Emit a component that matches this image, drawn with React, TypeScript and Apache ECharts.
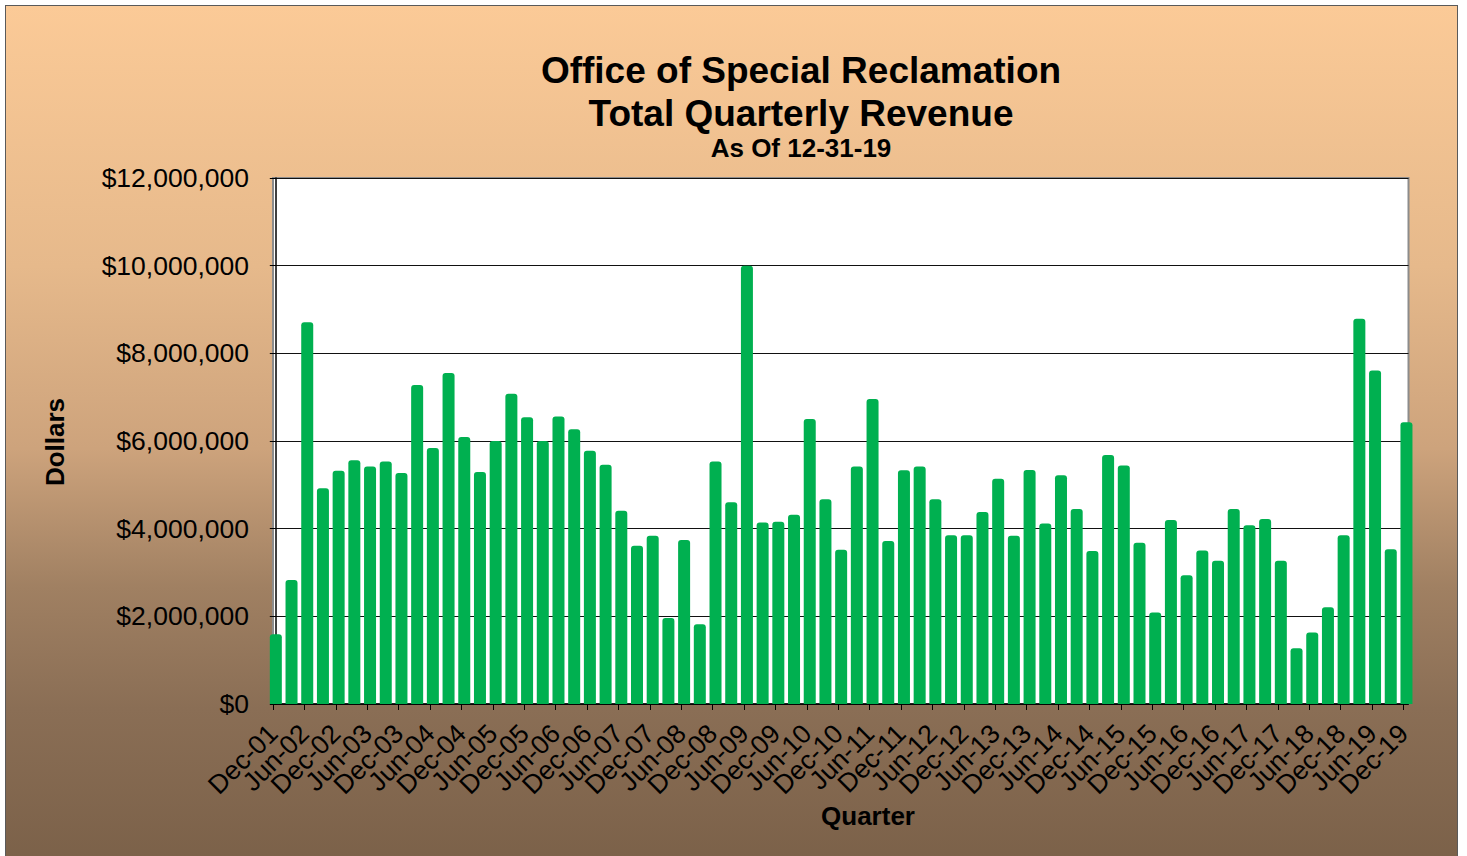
import React, { useEffect, useRef } from "react";
import * as echarts from "echarts";

const FONT = 'Arial, "Liberation Sans", sans-serif';

// 73 quarters, Dec-01 .. Dec-19
const quarters = [
  "Dec-01",
  "Mar-02", "Jun-02", "Sep-02", "Dec-02",
  "Mar-03", "Jun-03", "Sep-03", "Dec-03",
  "Mar-04", "Jun-04", "Sep-04", "Dec-04",
  "Mar-05", "Jun-05", "Sep-05", "Dec-05",
  "Mar-06", "Jun-06", "Sep-06", "Dec-06",
  "Mar-07", "Jun-07", "Sep-07", "Dec-07",
  "Mar-08", "Jun-08", "Sep-08", "Dec-08",
  "Mar-09", "Jun-09", "Sep-09", "Dec-09",
  "Mar-10", "Jun-10", "Sep-10", "Dec-10",
  "Mar-11", "Jun-11", "Sep-11", "Dec-11",
  "Mar-12", "Jun-12", "Sep-12", "Dec-12",
  "Mar-13", "Jun-13", "Sep-13", "Dec-13",
  "Mar-14", "Jun-14", "Sep-14", "Dec-14",
  "Mar-15", "Jun-15", "Sep-15", "Dec-15",
  "Mar-16", "Jun-16", "Sep-16", "Dec-16",
  "Mar-17", "Jun-17", "Sep-17", "Dec-17",
  "Mar-18", "Jun-18", "Sep-18", "Dec-18",
  "Mar-19", "Jun-19", "Sep-19", "Dec-19",
];

// Total quarterly revenue in dollars
const revenue = [
  1590000,
  2830000, 8710000, 4920000, 5320000,
  5560000, 5420000, 5530000, 5270000,
  7280000, 5840000, 7550000, 6090000,
  5290000, 6000000, 7080000, 6540000,
  6000000, 6560000, 6270000, 5780000,
  5460000, 4410000, 3610000, 3840000,
  1960000, 3740000, 1820000, 5530000,
  4600000, 10000000, 4140000, 4160000,
  4320000, 6500000, 4670000, 3520000,
  5420000, 6960000, 3720000, 5330000,
  5420000, 4670000, 3850000, 3850000,
  4380000, 5140000, 3840000, 5340000,
  4120000, 5220000, 4450000, 3490000,
  5680000, 5440000, 3680000, 2090000,
  4200000, 2940000, 3500000, 3270000,
  4450000, 4080000, 4220000, 3270000,
  1270000, 1630000, 2210000, 3850000,
  8790000, 7610000, 3530000, 6430000,
];

// Axis tick labels (every other quarter)
const tickLabels = [
  "Dec-01", "Jun-02", "Dec-02", "Jun-03", "Dec-03", "Jun-04", "Dec-04",
  "Jun-05", "Dec-05", "Jun-06", "Dec-06", "Jun-07", "Dec-07", "Jun-08",
  "Dec-08", "Jun-09", "Dec-09", "Jun-10", "Dec-10", "Jun-11", "Dec-11",
  "Jun-12", "Dec-12", "Jun-13", "Dec-13", "Jun-14", "Dec-14", "Jun-15",
  "Dec-15", "Jun-16", "Dec-16", "Jun-17", "Dec-17", "Jun-18", "Dec-18",
  "Jun-19", "Dec-19",
];

const titleLines = ["Office of Special Reclamation", "Total Quarterly Revenue"];
const subtitle = "As Of 12-31-19";
const yAxisTitle = "Dollars";
const xAxisTitle = "Quarter";

function textEl(text: string, x: number, y: number, size: number, rotation = 0) {
  return {
    type: "text",
    x,
    y,
    rotation,
    style: {
      text,
      fill: "#000",
      font: `bold ${size}px ${FONT}`,
      textAlign: "center",
      textVerticalAlign: "middle",
      align: "center",
      verticalAlign: "middle",
    },
  };
}

export default function App() {
  const ref = useRef<HTMLDivElement>(null);

  useEffect(() => {
    if (!ref.current) return;
    const chart = echarts.init(ref.current, null, { renderer: "svg" });
    const barData = revenue.map((v, i) => [i, v]);

    const option: any = {
      animation: false,
      textStyle: { fontFamily: FONT },
      grid: [
        {
          left: 273,
          right: 58.5,
          top: 178,
          bottom: 152,
          show: true,
          backgroundColor: "#ffffff",
          borderColor: "#8c8c8c",
          borderWidth: 2,
        },
        {
          left: 273,
          right: 63.5,
          top: 178,
          bottom: 152,
          show: false,
        },
      ],
      xAxis: [
        {
          gridIndex: 0,
          type: "value",
          min: -0.18,
          max: 72.13,
          axisLine: { show: true, onZero: false, lineStyle: { color: "#000", width: 1.5 } },
          axisTick: { show: false },
          axisLabel: { show: false },
          splitLine: { show: false },
        },
        {
          gridIndex: 1,
          type: "category",
          data: tickLabels,
          boundaryGap: false,
          position: "bottom",
          axisLine: { show: false, onZero: false },
          axisTick: {
            show: true,
            interval: 0,
            length: 6,
            lineStyle: { color: "#000", width: 1 },
          },
          axisLabel: {
            interval: 0,
            rotate: 45,
            margin: 25,
            fontSize: 26.5,
            color: "#000",
            fontFamily: FONT,
          },
          splitLine: { show: false },
        },
      ],
      yAxis: [
        {
          gridIndex: 0,
          type: "value",
          min: 0,
          max: 12000000,
          interval: 2000000,
          axisLine: { show: true, lineStyle: { color: "#000", width: 1.5 } },
          axisTick: { show: true, length: 6, lineStyle: { color: "#000", width: 1 } },
          axisLabel: {
            fontSize: 26.5,
            color: "#000",
            margin: 24,
            fontFamily: FONT,
            formatter: (v: number) => "$" + v.toLocaleString("en-US"),
          },
          splitLine: { show: true, lineStyle: { color: "#111", width: 1.2 } },
        },
        {
          gridIndex: 1,
          type: "value",
          min: 0,
          max: 12000000,
          show: false,
        },
      ],
      series: [
        {
          type: "bar",
          name: "Revenue",
          xAxisIndex: 0,
          yAxisIndex: 0,
          data: barData,
          barWidth: 12,
          clip: true,
          itemStyle: { color: "#00B050", borderRadius: [3, 3, 0, 0] },
        },
      ],
      graphic: [
        textEl(titleLines[0], 801, 70, 37),
        textEl(titleLines[1], 801, 113, 37),
        textEl(subtitle, 801, 148, 26),
        textEl(yAxisTitle, 55, 442, 26, Math.PI / 2),
        textEl(xAxisTitle, 868, 816, 26),
      ],
    };

    chart.setOption(option);
    return () => chart.dispose();
  }, []);

  return (
    <div
      style={{
        position: "absolute",
        left: 0,
        top: 0,
        width: 1467,
        height: 856,
        background: "#ffffff",
        overflow: "hidden",
      }}
    >
      <div
        style={{
          position: "absolute",
          left: 5,
          top: 5,
          width: 1453,
          height: 870,
          boxSizing: "border-box",
          border: "1.5px solid #5a5a5a",
          background:
            "linear-gradient(to bottom, #FBCA97 0%, #E6B98B 30%, #CDA37C 51%, #A08062 67%, #8A6E55 81%, #7A6048 100%)",
        }}
      />
      <div
        ref={ref}
        style={{ position: "absolute", left: 0, top: 0, width: 1467, height: 856 }}
      />
    </div>
  );
}
